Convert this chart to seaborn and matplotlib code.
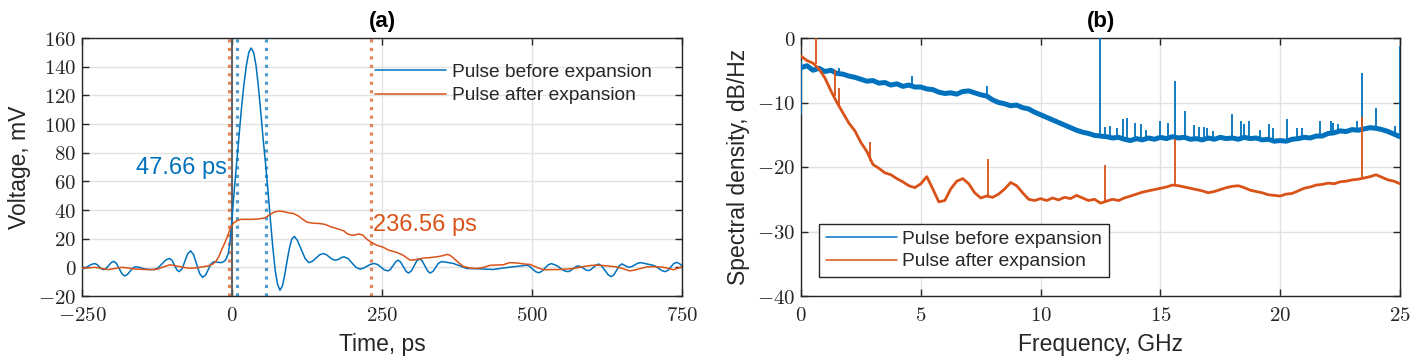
import numpy as np
import pandas as pd
import matplotlib
matplotlib.use("Agg")
import matplotlib.pyplot as plt
import seaborn as sns
from matplotlib.ticker import FuncFormatter, MultipleLocator
from matplotlib.lines import Line2D

# ---------------- data: panel (a) ----------------
t_blue = [-250, -245, -240, -234, -229, -225, -221.5, -218, -214, -210, -205.5, -201, -197, -192.5, -188,
          -183.5, -179, -174.5, -170, -165.5, -161, -154, -147, -138, -130, -123.5, -117, -110.5, -104, -100,
          -96, -92, -88, -83, -78.5, -74, -69, -64, -59, -54, -49, -44, -39.5, -35, -30, -25, -20, -16, -12,
          -9, -6, -3, 0, 4, 8, 12, 16, 20, 24, 28, 32, 36, 40, 44, 48, 52, 56, 60, 64, 68, 72, 76, 80, 84,
          88, 92, 96, 100, 104, 109, 115.5, 122, 128, 134, 140, 146, 152, 157, 162, 167, 172, 176, 179.5,
          183, 187, 193.5, 200, 206.5, 213, 219, 225, 231, 237, 243, 248.5, 254, 260, 264, 268.5, 273, 277,
          281, 285.5, 290, 294, 299, 303.5, 308, 313, 317, 321.5, 326, 330, 335, 339.5, 344, 349, 358, 369,
          380, 391, 410, 435, 452, 469, 480, 491, 496, 501, 506, 511, 516, 521.5, 527, 532, 538, 544, 550,
          555, 560, 564, 568.5, 573, 577, 581, 585.5, 590, 594, 598, 602.5, 607, 611, 616, 621.5, 627, 632,
          636.5, 641, 645.5, 650, 655, 661, 666, 671, 676, 681, 690, 700, 705.5, 711, 716.5, 722, 727,
          731.5, 736, 741, 746, 750]
v_blue = [-1.2, -0.6, 0.7, 2.1, 2.6, 2.0, 0.5, -1.0, -1.6, -0.8, 1.3, 3.4, 4.2, 2.7, -0.9,
          -4.5, -6.0, -5.1, -2.8, -0.5, 0.4, 0.0, -1.0, -1.5, -1.6, -0.5, 2.3, 5.1, 6.2, 4.9,
          1.6, -1.7, -3.0, -0.9, 4.2, 9.4, 11.5, 8.8, 2.2, -4.3, -7.0, -5.4, -1.5, 2.4, 4.0, 3.6, 3.3, 3.5, 4.5,
          6.5, 10, 19, 34, 55, 74, 93, 112, 128, 141, 150, 153, 150, 141, 126, 108, 89, 72, 53, 33, 14, -2, -12, -16, -13,
          -5, 5, 14, 20, 21.5, 18.8, 12.4, 6.0, 3.3, 4.2, 6.4, 8.7, 9.6, 8.9, 7.3, 5.7, 5.0, 5.3, 6.1,
          7.0, 7.3, 6.1, 3.0, 0.0, -1.2, -0.6, 0.8, 2.1, 2.7, 1.9, 0.1, -1.8, -2.5, -1.4, 1.2, 3.9, 5.0,
          3.7, 0.5, -2.7, -4.0, -2.5, 1.0, 4.5, 6.0, 4.5, 1.0, -2.5, -4.0, -2.8, 0.0, 2.8, 4.0, 3.5, 2.7,
          1.0, -0.8, -1.0, -1.5, -0.5, 0.4, 0.9, 1.5, 0.7, -1.1, -3.0, -3.8, -2.9, -0.6, 1.7, 2.6, 1.8, 0.5, -1.5,
          -2.6, -3.0, -2.4, -1.0, 0.4, 1.0, 0.5, -0.6, -1.8, -2.3, -1.6, 0.0, 1.6, 2.3, 1.0, -2.1, -5.2, -6.5,
          -5.2, -2.0, 1.1, 2.4, 1.2, 0.0, 0.5, 1.6, 2.8, 3.3, 2.5, 1.6, 0.9, -0.7, -2.3, -3.0, -2.0,
          0.2, 2.5, 3.5, 2.5, 1.0]

t_orange = [-250, -228, -206, -183, -161, -139, -125, -113, -103, -93, -83, -72, -61, -50, -41, -33, -27,
            -22, -17, -12, -6, -2, 3, 8, 15, 24, 35, 45, 55, 62, 70, 77, 85, 95, 102, 110, 118, 125, 135,
            145, 155, 165, 175, 186, 192, 198, 205, 211, 218, 225, 232, 241, 252, 261, 274, 285, 297, 305,
            311, 320, 330, 341, 352, 358, 363, 369, 377, 386, 397, 408, 420, 430, 440, 452, 463, 475, 486,
            497, 508, 519, 532, 547, 558, 569, 585, 596, 608, 625, 641, 652, 663, 675, 691, 705, 719, 728,
            736, 744, 750]
v_orange = [-0.7, 0.0, -1.6, 0.0, -1.2, -1.6, -1.4, 0.5, 1.8, 1.0, 0.2, -0.6, -0.5, 0.3, 0.9, 2.0, 4.0,
            7.5, 12.5, 17.0, 23.5, 28.0, 31.0, 32.5, 33.5, 33.5, 33.5, 33.8, 34.5, 36.5, 38.5, 39.2, 39.0, 38.0,
            37.6, 36.0, 33.5, 31.5, 30.8, 30.6, 30.0, 28.2, 27.0, 25.5, 23.5, 22.5, 22.5, 23.3, 22.5, 19.5,
            17.5, 15.5, 14.0, 12.0, 10.5, 8.5, 5.0, 5.3, 5.8, 6.5, 6.8, 7.3, 8.2, 9.0, 8.5, 6.5, 3.5, 0.5,
            -0.5, -0.8, 0.0, 1.4, 1.6, 1.8, 3.3, 3.0, 2.4, 2.0, 0.0, -1.7, -1.6, -1.5, -1.2, -0.8, 0.5, 1.2,
            1.6, 1.0, 0.3, -1.0, -2.5, -1.5, 0.3, 0.5, 0.0, -0.8, -1.7, -0.5, 0.3]

blue_marks = [8.5, 56.16]        # FWHM markers, before expansion
orange_marks = [-5.5, 231.06]    # FWHM markers, after expansion
width_labels = ["47.66 ps", "236.56 ps"]
label_anchor_a = [(-9, 69.5), (235, 29.4)]

# ---------------- data: panel (b) ----------------
freq = np.arange(0, 25.001, 0.25)
psd_blue = [-4.6, -4.3, -5.0, -4.7, -5.2, -5.0, -5.5, -5.6, -5.9, -6.1, -6.4, -6.7, -6.6, -7.0, -6.9, -7.3,
            -7.1, -7.5, -7.3, -7.6, -7.6, -7.9, -8.0, -8.4, -8.6, -8.5, -8.7, -8.3, -8.2, -8.5, -8.8, -9.0,
            -9.6, -10.0, -10.2, -10.5, -10.4, -10.8, -11.0, -11.5, -11.9, -12.3, -12.7, -13.1, -13.5, -13.9,
            -14.3, -14.6, -14.8, -15.1, -15.2, -15.3, -15.5, -15.4, -15.7, -15.9, -15.6, -15.8, -15.5, -15.7,
            -15.4, -15.6, -15.3, -15.5, -15.4, -15.7, -15.6, -15.8, -15.5, -15.7, -15.4, -15.6, -15.5, -15.7,
            -15.4, -15.6, -15.5, -15.8, -15.7, -16.0, -15.9, -16.0, -15.7, -15.6, -15.4, -15.5, -15.2, -15.2,
            -14.8, -14.7, -14.4, -14.5, -14.2, -14.3, -14.1, -13.9, -14.0, -14.2, -14.5, -14.9, -15.3]
psd_orange = [-2.8, -3.5, -3.9, -4.8, -6.2, -8.2, -10.0, -11.6, -13.2, -14.4, -16.2, -17.6, -19.6, -20.2,
              -20.9, -21.2, -21.8, -22.3, -22.9, -23.2, -22.6, -21.5, -23.4, -25.4, -25.2, -23.4, -22.2, -21.8,
              -22.6, -24.0, -24.8, -24.5, -24.7, -24.2, -23.4, -22.4, -22.9, -24.0, -25.0, -25.2, -24.9, -25.2,
              -24.8, -25.1, -24.7, -24.9, -24.4, -24.8, -25.2, -25.0, -25.6, -25.3, -25.0, -25.2, -24.8, -24.5,
              -24.2, -23.9, -23.7, -23.5, -23.3, -23.1, -22.8, -22.9, -23.1, -23.3, -23.5, -23.7, -24.0, -23.8,
              -23.5, -23.2, -23.0, -22.9, -23.2, -23.6, -23.8, -24.0, -24.3, -24.4, -24.5, -24.2, -24.1, -23.7,
              -23.3, -23.1, -22.8, -22.7, -22.5, -22.6, -22.3, -22.2, -22.0, -21.9, -21.7, -21.5, -21.2, -21.6,
              -22.0, -22.2, -22.6]

spk_blue_f = [0.0, 1.6, 4.65, 7.75, 12.48, 12.67, 12.9, 13.2, 13.45, 13.62, 13.95, 14.2, 14.4, 15.0, 15.3,
              15.61, 16.03, 16.4, 16.6, 16.8, 16.95, 17.2, 17.97, 18.35, 18.5, 18.7, 19.15, 19.54, 19.7, 20.27,
              20.7, 20.9, 21.66, 22.1, 22.2, 22.4, 23.2, 23.43, 23.98, 24.8, 25.0]
spk_blue_lo = [-12.0, -5.4, -7.5, -9.0, -15.2, -15.3, -15.4, -15.4, -15.6, -15.8, -15.6, -15.8, -15.6, -15.4,
               -15.6, -15.4, -15.4, -15.6, -15.6, -15.7, -15.6, -15.6, -15.5, -15.6, -15.5, -15.5, -15.6,
               -15.7, -15.7, -16.0, -15.7, -15.6, -15.2, -14.8, -14.8, -14.5, -14.2, -14.1, -14.0, -14.8, -15.3]
spk_blue_hi = [-3.5, -4.6, -5.9, -7.4, 0.0, -13.8, -13.6, -14.0, -12.6, -12.4, -13.2, -13.4, -14.2, -12.9,
               -13.2, -6.7, -11.3, -13.5, -13.8, -13.8, -14.0, -14.4, -11.8, -12.9, -13.4, -12.8, -14.2,
               -13.3, -14.0, -12.5, -14.0, -14.0, -12.9, -12.9, -13.2, -13.3, -12.9, -5.5, -10.9, -13.6, -1.3]

spk_orange_f = [0.63, 1.42, 1.6, 2.88, 7.82, 12.7, 15.61, 23.43]
spk_orange_lo = [-4.0, -9.0, -10.4, -19.0, -24.6, -25.4, -22.8, -21.7]
spk_orange_hi = [0.0, -4.9, -7.8, -16.2, -18.8, -19.7, -15.6, -12.2]

series_names = ["Pulse before expansion", "Pulse after expansion"]

# ---------------- style ----------------
sns.set_theme(style="white")
plt.rcParams["font.family"] = ["Liberation Sans", "DejaVu Sans"]
plt.rcParams["mathtext.fontset"] = "cm"
BLUE = "#0072BD"
ORANGE = "#D95319"
DARK = "#262626"

fig = plt.figure(figsize=(14.12, 3.62), dpi=100)
ax1 = fig.add_axes([82 / 1412, 66 / 362, 600 / 1412, 258 / 362])
ax2 = fig.add_axes([801 / 1412, 66 / 362, 599 / 1412, 258 / 362])

fmt = FuncFormatter(lambda v, p: f"${v:g}$")


def style(ax):
    ax.grid(True, color="#e2e2e2", lw=1.0)
    ax.set_axisbelow(True)
    for s in ax.spines.values():
        s.set_visible(True)
        s.set_color(DARK)
        s.set_linewidth(1.0)
    ax.tick_params(direction="in", length=5, width=1, colors=DARK, labelcolor=DARK,
                   bottom=True, left=True, top=True, right=True, labelsize=15)
    ax.tick_params(axis="x", pad=7)
    ax.tick_params(axis="y", pad=4)
    ax.xaxis.set_major_formatter(fmt)
    ax.yaxis.set_major_formatter(fmt)


# ---------------- panel (a) ----------------
ax1.axvline(0, color="#555555", lw=1.3, zorder=1.5)
for x in blue_marks:
    ax1.axvline(x, color=BLUE, alpha=0.7, lw=2.3, ls=":", zorder=1.6)
for x in orange_marks:
    ax1.axvline(x, color=ORANGE, alpha=0.7, lw=2.3, ls=":", zorder=1.6)
sns.lineplot(x=t_blue, y=v_blue, ax=ax1, color=BLUE, lw=1.1, estimator=None, sort=False, zorder=3)
sns.lineplot(x=t_orange, y=v_orange, ax=ax1, color=ORANGE, lw=1.1, estimator=None, sort=False, zorder=3)
ax1.text(*label_anchor_a[0], width_labels[0], color=BLUE, fontsize=17, ha="right", va="center")
ax1.text(*label_anchor_a[1], width_labels[1], color=ORANGE, fontsize=17, ha="left", va="center")
ax1.set_xlim(-250, 750)
ax1.set_ylim(-20, 160)
ax1.xaxis.set_major_locator(MultipleLocator(250))
ax1.yaxis.set_major_locator(MultipleLocator(20))
style(ax1)
ax1.set_xlabel("Time, ps", fontsize=16.5, color=DARK, labelpad=6)
ax1.set_ylabel("Voltage, mV", fontsize=16.5, color=DARK, labelpad=5)
ax1.set_title("(a)", fontsize=16, fontweight="bold", color="black", pad=8)
h = [Line2D([], [], color=BLUE, lw=1.1), Line2D([], [], color=ORANGE, lw=1.1)]
ax1.legend(h, series_names, loc="center left", bbox_to_anchor=(0.489, 0.822), frameon=False,
           fontsize=13.8, handlelength=3.7, handletextpad=0.3, borderpad=0, borderaxespad=0,
           labelspacing=0.3)

# ---------------- panel (b) ----------------
sns.lineplot(x=freq, y=psd_blue, ax=ax2, color=BLUE, lw=3.6, estimator=None, sort=False, zorder=3)
ax2.vlines(spk_blue_f, spk_blue_lo, spk_blue_hi, color=BLUE, lw=1.3, zorder=3)
sns.lineplot(x=freq, y=psd_orange, ax=ax2, color=ORANGE, lw=2.0, estimator=None, sort=False, zorder=4)
ax2.vlines(spk_orange_f, spk_orange_lo, spk_orange_hi, color=ORANGE, lw=1.3, zorder=4)
ax2.set_xlim(0, 25)
ax2.set_ylim(-40, 0)
ax2.xaxis.set_major_locator(MultipleLocator(5))
ax2.yaxis.set_major_locator(MultipleLocator(10))
style(ax2)
ax2.set_xlabel("Frequency, GHz", fontsize=16.5, color=DARK, labelpad=6)
ax2.set_ylabel("Spectral density, dB/Hz", fontsize=16.5, color=DARK, labelpad=5)
ax2.set_title("(b)", fontsize=16, fontweight="bold", color="black", pad=8)
leg2 = ax2.legend(h, series_names, loc="lower left", bbox_to_anchor=(0.030, 0.0736), frameon=True,
                  fontsize=13.8, handlelength=3.7, handletextpad=0.3, borderpad=0.35, borderaxespad=0,
                  labelspacing=0.25, fancybox=False, framealpha=1, edgecolor=DARK)
leg2.get_frame().set_linewidth(1.0)

fig.savefig("out.png", dpi=100)
